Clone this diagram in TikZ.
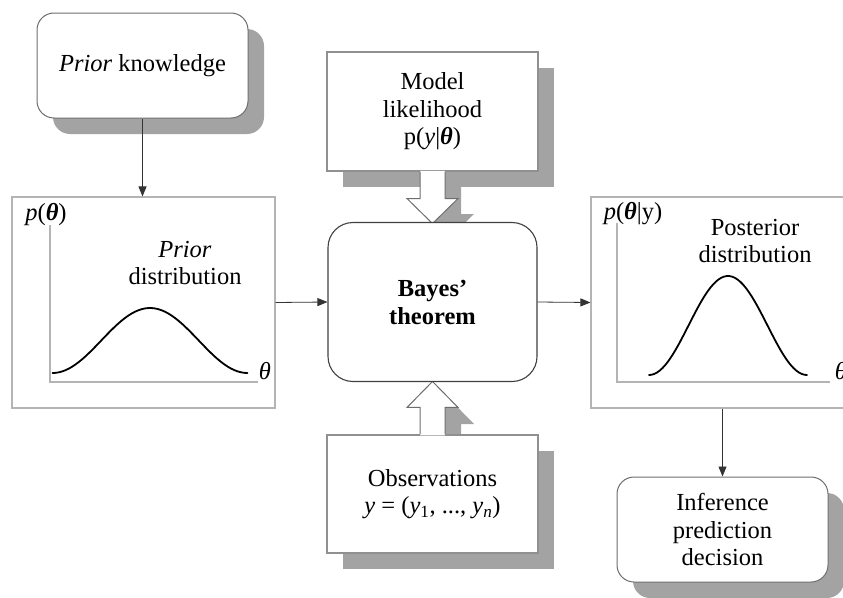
\documentclass[tikz,border=0pt]{standalone}
\usepackage{fontspec}
\setmainfont{Liberation Serif}
\usetikzlibrary{arrows.meta,shadows,calc}
\definecolor{boxgray}{HTML}{B4B4B4}
\definecolor{rgray}{HTML}{6E6E6E}
\definecolor{shadowc}{HTML}{A3A3A3}
\begin{document}
\begin{tikzpicture}[x=1pt,y=-1pt,
  txt/.style={font=\fontsize{24.5}{27.5}\selectfont, align=center, inner sep=0pt},
  rbox/.style={draw=rgray, line width=1pt, fill=white, rounded corners=17pt, txt},
  shad/.style={drop shadow={shadow xshift=16pt, shadow yshift=-16pt, fill=shadowc, opacity=1}},
  gbox/.style={draw=boxgray, line width=1.1pt, fill=white, inner sep=0pt},
  conn/.style={draw=black!80, line width=0.8pt, -{Triangle[length=10pt,width=8pt]}},
  hshadow/.style={fill=shadowc, draw=none},
  hfill/.style={fill=white, draw=none},
  hline/.style={draw=rgray, line width=1pt},
  bell/.style={line width=1.8pt, black, line cap=round},
  axisline/.style={draw=boxgray, line width=1.1pt}]
\useasboundingbox (0,0) rectangle (843,597);

% Prior knowledge
\node[rbox, shad, minimum width=211pt, minimum height=105pt] (pk) at (142.5,65.5) {\textit{Prior} knowledge};

% shadows of the hollow arrows
\fill[hshadow] (436,187) -- (436,214) -- (423,214) -- (448.5,239) -- (474,214) -- (461,214) -- (461,187) -- cycle;
\fill[hshadow] (436,451) -- (436,424) -- (423,424) -- (448.5,398) -- (474,424) -- (461,424) -- (461,451) -- cycle;

% Model likelihood and observations
\node[gbox, draw=boxgray!80!black, shad, minimum width=211pt, minimum height=119pt, txt] (model) at (432.5,111.5) {Model\\likelihood\\p(\textit{y}|\textbf{\textit{θ}})};
\node[gbox, draw=boxgray!80!black, shad, minimum width=211pt, minimum height=118pt, txt] (obs) at (432.5,494) {Observations\\\textit{y} = (\textit{y}\textsubscript{1}, ..., \textit{y}\textsubscript{\textit{n}})};

% hollow arrows
\fill[hfill] ($(model.south)+(-12.5,-0.8)$) -- ++(0,27.8) -- ++(-13,0) -- ($(model.south)+(0,52)$) -- ++(25.5,-25) -- ++(-13,0) -- ++(0,-27.8) -- cycle;
\draw[hline] ($(model.south)+(-12.5,0)$) -- ++(0,27) -- ++(-13,0) -- ($(model.south)+(0,52)$) -- ++(25.5,-25) -- ++(-13,0) -- ++(0,-27);
\fill[hfill] ($(obs.north)+(-12.5,0.8)$) -- ++(0,-27.8) -- ++(-13,0) -- ($(obs.north)+(0,-53)$) -- ++(25.5,26) -- ++(-13,0) -- ++(0,27.8) -- cycle;
\draw[hline] ($(obs.north)+(-12.5,0)$) -- ++(0,-27) -- ++(-13,0) -- ($(obs.north)+(0,-53)$) -- ++(25.5,26) -- ++(-13,0) -- ++(0,27);

% Bayes theorem
\node[draw=black!75, line width=1.1pt, fill=white, rounded corners=25pt, minimum width=209pt, minimum height=159pt, txt, font=\fontsize{24.5}{28}\selectfont\bfseries] (bayes) at (432.5,302) {Bayes'\\theorem};

% distribution boxes
\node[gbox, minimum width=263pt, minimum height=211pt] (prior) at (143.5,302.5) {};
\node[gbox, minimum width=263pt, minimum height=211pt] (post) at (722.5,302.5) {};

% Inference
\node[rbox, shad, minimum width=211pt, minimum height=105pt] (inf) at (722.5,529.5) {Inference\\prediction\\decision};

% connectors
\draw[conn] (pk.south) -- (pk.south |- prior.north);
\draw[conn] (prior.east) -- (bayes.west);
\draw[conn] (bayes.east) -- (post.west);
\draw[conn] (post.south) -- (inf.north);

% prior plot
\draw[axisline] (50,225) -- (50,382) -- (258,382);
\draw[bell] plot[domain=-1:1, samples=60, smooth] ({150+97.5*\x}, {373-65*(1+cos(180*\x))/2});
\node[txt] (ptheta) at (46,215) {\textit{p}(\textbf{\textit{θ}})};
\node[txt] (thetaA) at (265,371) {\textit{θ}};
\node[txt] (priorlab) at (185,263) {\textit{Prior}\\distribution};

% posterior plot
\draw[axisline] (617,223) -- (617,382) -- (830,382);
\draw[bell] plot[domain=-1:1, samples=60, smooth] ({728+79*\x}, {375-99*(1+cos(180*\x))/2});
\node[txt] (ptheta2) at (633,214) {\textit{p}(\textbf{\textit{θ}}|y)};
\node[txt] (thetaB) at (841,371) {\textit{θ}};
\node[txt] (postlab) at (755,241) {Posterior\\distribution};
\end{tikzpicture}
\end{document}
